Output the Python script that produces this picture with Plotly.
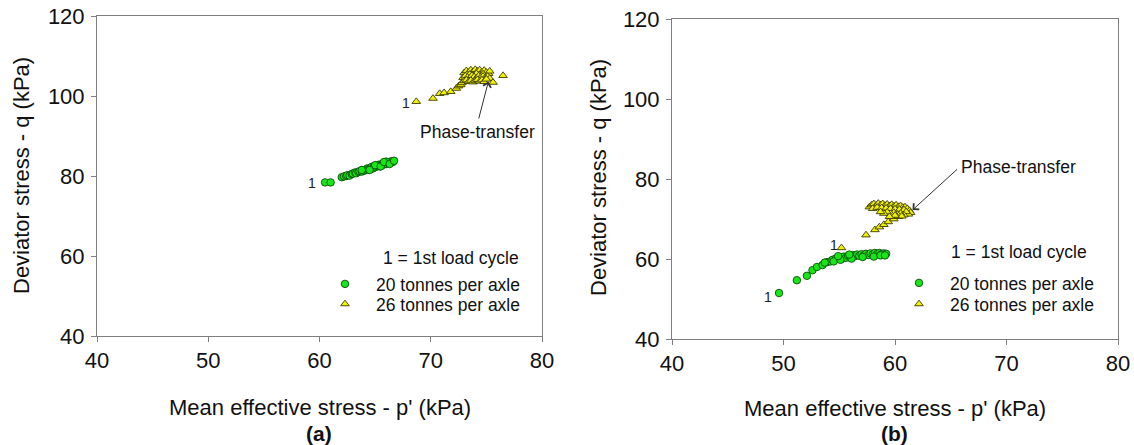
import plotly.graph_objects as go

# ---------------- data ----------------
# Panel (a)
p20a = [60.5, 61.0, 62.0, 62.2, 62.4, 62.5, 62.7, 62.9, 63.0, 63.2, 63.3, 63.5, 63.6, 63.8, 63.9,
        64.0, 64.2, 64.3, 64.4, 64.6, 64.7, 64.8, 64.9, 65.0, 65.1, 65.2, 65.3, 65.4, 65.5, 65.6,
        65.7, 65.8, 65.9, 66.0, 66.1, 66.2, 66.3, 66.4, 66.5, 66.6, 65.0, 65.5, 64.5, 66.0, 63.8,
        65.8, 66.3, 66.7]
q20a = [78.4, 78.4, 79.7, 79.9, 80.0, 80.2, 80.1, 80.5, 80.6, 80.9, 80.7, 81.0, 81.2, 81.1, 81.5,
        81.3, 81.6, 81.9, 81.7, 82.0, 82.3, 81.9, 82.4, 82.2, 82.6, 82.5, 82.8, 82.4, 82.9, 82.7,
        83.1, 82.9, 83.2, 83.0, 83.4, 83.2, 83.5, 83.3, 83.7, 83.5, 82.7, 82.4, 81.5, 83.6, 81.5,
        83.5, 83.0, 83.8]

p26a = [68.7, 70.2, 70.8, 71.2, 71.8, 72.3, 72.5, 72.7,
        73.0, 73.2, 73.4, 73.6, 73.8, 74.0, 74.2, 74.4, 74.6, 74.8, 75.0, 75.2, 75.3, 73.5, 74.1, 74.7,
        72.9, 73.1, 73.3, 73.5, 73.7, 73.9, 74.1, 74.3, 74.5, 74.7, 74.9, 75.1, 75.3,
        72.8, 73.0, 73.2, 73.4, 73.6, 73.8, 74.0, 74.2, 74.4, 74.6, 74.8, 75.0,
        75.6, 76.5]
q26a = [98.6, 99.4, 100.6, 100.8, 101.1, 101.9, 102.5, 102.8,
        105.8, 106.3, 105.9, 106.5, 106.1, 106.6, 106.2, 106.5, 106.0, 106.4, 105.9, 105.6, 106.2, 105.4, 105.6, 105.5,
        104.6, 105.0, 104.7, 104.4, 105.1, 104.8, 104.5, 105.0, 104.7, 104.9, 104.6, 104.9, 104.4,
        103.3, 103.8, 104.0, 103.6, 103.9, 103.5, 103.8, 104.1, 103.7, 104.0, 103.6, 104.2,
        103.4, 105.1]

# Panel (b)
p20b = [49.6, 51.2, 52.1, 52.6, 53.0, 53.5, 53.9, 54.2, 54.4, 54.7, 55.0, 55.2, 55.4, 55.6, 55.8,
        56.0, 56.2, 56.4, 56.6, 56.8, 57.0, 57.2, 57.4, 57.6, 57.8, 58.0, 58.2, 58.4, 58.6, 58.8,
        59.0, 59.2, 54.5, 55.1, 56.1, 57.1, 58.1, 58.7, 59.1, 53.7, 54.9, 55.9]
q20b = [51.5, 54.7, 55.8, 57.2, 58.0, 58.5, 59.2, 59.4, 59.8, 60.1, 60.3, 60.0, 60.6, 60.3, 60.8,
        60.6, 61.0, 60.7, 61.1, 60.8, 61.2, 60.9, 61.3, 61.0, 61.4, 61.1, 61.5, 61.2, 61.5, 61.2,
        61.4, 61.3, 59.4, 59.8, 60.1, 60.5, 60.6, 60.9, 60.9, 59.1, 60.7, 61.1]

p26b = [55.2, 57.4, 58.2, 58.6, 59.0, 59.4, 59.9, 60.3,
        57.7, 57.9, 58.1, 58.3, 58.5, 58.7, 58.9, 59.1, 59.3, 59.5, 59.7, 59.9, 60.1, 60.3, 60.5, 60.7,
        60.9, 61.1, 58.0, 58.4, 58.8, 59.2, 59.6, 60.0, 60.4, 60.8,
        61.3, 61.4, 61.2, 61.0,
        60.8, 60.5, 60.2, 59.9, 59.6, 59.3, 59.0, 58.7, 60.6, 60.0, 59.5]
q26b = [62.8, 66.0, 67.3, 68.0, 68.6, 69.3, 70.0, 70.6,
        73.0, 73.5, 73.8, 73.4, 73.9, 73.5, 73.8, 73.4, 73.7, 73.3, 73.6, 73.2, 73.5, 73.1, 73.3, 72.9,
        73.0, 72.6, 72.6, 72.9, 72.8, 72.7, 72.6, 72.5, 72.4, 72.3,
        72.1, 71.6, 71.2, 71.8,
        71.0, 71.4, 71.2, 71.6, 71.3, 71.7, 71.4, 71.8, 70.7, 70.9, 70.6]

x_ticks = [40, 50, 60, 70, 80]
y_ticks = [40, 60, 80, 100, 120]
series_names = ["20 tonnes per axle", "26 tonnes per axle"]

# ---------------- styling ----------------
FONT = "Liberation Sans, Arial, sans-serif"
GREEN = "#19e619"
GREEN_EDGE = "#0b4d0b"
YELLOW = "#f2f200"
YELLOW_EDGE = "#3a3a00"
AXIS_COL = "#7f7f7f"
W, H = 1134, 445

def fx(px):  # screen px -> paper fraction (x)
    return px / W

def fy(py):  # screen px -> paper fraction (y)
    return 1 - py / H

fig = go.Figure()

def add_series(px, qy, name, symbol, fill, edge, size, xa, ya, legend):
    fig.add_trace(go.Scatter(
        x=px, y=qy, mode="markers", name=name, xaxis=xa, yaxis=ya, legend=legend,
        marker=dict(symbol=symbol, size=size, color=fill, line=dict(color=edge, width=0.9)),
    ))

add_series(p20a, q20a, series_names[0], "circle", GREEN, GREEN_EDGE, 7.5, "x", "y", "legend")
add_series(p26a, q26a, series_names[1], "triangle-up", YELLOW, YELLOW_EDGE, 7.5, "x", "y", "legend2")
add_series(p20b, q20b, series_names[0], "circle", GREEN, GREEN_EDGE, 7.5, "x2", "y2", "legend3")
add_series(p26b, q26b, series_names[1], "triangle-up", YELLOW, YELLOW_EDGE, 7.5, "x2", "y2", "legend4")

axis_common = dict(
    range=[40, 80], tickvals=x_ticks, ticks="outside", ticklen=5, tickcolor=AXIS_COL,
    showline=True, linecolor=AXIS_COL, linewidth=1, mirror=True, showgrid=False, zeroline=False,
    tickfont=dict(family=FONT, size=22, color="#111"), ticklabelstandoff=0, automargin=False,
    ticklabeloverflow="allow",
)
yaxis_common = dict(
    range=[40, 120], tickvals=y_ticks, ticks="outside", ticklen=5, tickcolor=AXIS_COL,
    showline=True, linecolor=AXIS_COL, linewidth=1, mirror=True, showgrid=False, zeroline=False,
    tickfont=dict(family=FONT, size=22, color="#111"), ticklabelstandoff=2, automargin=False,
    ticklabeloverflow="allow",
)

legend_common = dict(
    font=dict(family=FONT, size=17.5, color="#111"), bgcolor="rgba(0,0,0,0)",
    xanchor="left", yanchor="top", itemwidth=52, tracegroupgap=0,
)

fig.update_layout(
    width=W, height=H, margin=dict(l=0, r=0, t=0, b=0, autoexpand=False),
    paper_bgcolor="white", plot_bgcolor="white",
    xaxis=dict(domain=[fx(97), fx(542)], anchor="y", **axis_common),
    yaxis=dict(domain=[fy(336), fy(16)], anchor="x", **yaxis_common),
    xaxis2=dict(domain=[fx(672), fx(1118)], anchor="y2", **axis_common),
    yaxis2=dict(domain=[fy(339), fy(19)], anchor="x2", **yaxis_common),
    legend=dict(x=fx(314), y=fy(266), **legend_common),
    legend2=dict(x=fx(314), y=fy(286), **legend_common),
    legend3=dict(x=fx(888), y=fy(265), **legend_common),
    legend4=dict(x=fx(888), y=fy(286), **legend_common),
    showlegend=True,
)

ann = []
def text(x, y, s, size, xref="paper", yref="paper", bold=False, angle=0, color="#111"):
    ann.append(dict(x=x, y=y, xref=xref, yref=yref, text=(f"<b>{s}</b>" if bold else s),
                    showarrow=False, textangle=angle,
                    font=dict(family=FONT, size=size, color=color),
                    xanchor="center", yanchor="middle"))

# axis titles
text(fx(320), fy(407), "Mean effective stress - p' (kPa)", 22)
text(fx(895), fy(408), "Mean effective stress - p' (kPa)", 22)
text(fx(22), fy(176), "Deviator stress - q (kPa)", 22, angle=-90)
text(fx(598), fy(178), "Deviator stress - q (kPa)", 22, angle=-90)
# panel labels
text(fx(319), fy(433), "(a)", 21, bold=True)
text(fx(894), fy(433), "(b)", 21, bold=True)
# legend notes
text(fx(451), fy(258), "1 = 1st load cycle", 17.5)
text(fx(1019), fy(252), "1 = 1st load cycle", 17.5)
# first-cycle labels
text(59.3, 78.3, "1", 14, xref="x", yref="y", color="#222")
text(67.8, 98.2, "1", 14, xref="x", yref="y", color="#222")
text(48.6, 50.4, "1", 14, xref="x2", yref="y2", color="#222")
text(54.5, 63.6, "1", 14, xref="x2", yref="y2", color="#222")
# phase-transfer labels
text(74.2, 91.1, "Phase-transfer", 17.5, xref="x", yref="y")
text(71.06, 83.0, "Phase-transfer", 17.5, xref="x2", yref="y2")

# arrows
for (tx, ty, hx, hy, xr, yr) in [(74.28, 94.0, 75.18, 103.6, "x", "y"),
                                 (65.7, 82.75, 61.57, 72.25, "x2", "y2")]:
    ann.append(dict(x=hx, y=hy, ax=tx, ay=ty, xref=xr, yref=yr, axref=xr, ayref=yr,
                    text="", showarrow=True, arrowhead=4, arrowsize=1.6, arrowwidth=1,
                    arrowcolor="#333", standoff=0, startstandoff=0))

fig.update_layout(annotations=ann)
# remove the browser's default 8px page margin and scrollbars so the figure fills the window
fig.write_html(
    "out.html",
    config={"displayModeBar": False},
    post_script="document.body.style.margin='0';document.documentElement.style.overflow='hidden';"
                "document.body.style.overflow='hidden';",
)
